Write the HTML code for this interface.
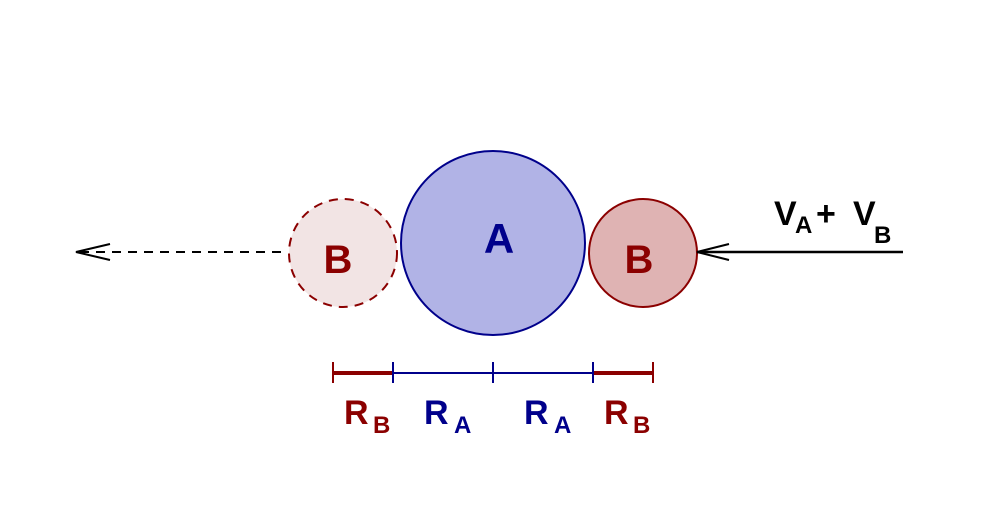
<!DOCTYPE html>
<html><head><style>body{margin:0;background:#fff}</style></head><body>
<svg width="1006" height="526" xmlns="http://www.w3.org/2000/svg" font-family="Liberation Sans, sans-serif" font-weight="bold">
<rect width="1006" height="526" fill="#fff"/>
<circle cx="343" cy="253" r="54" fill="#f2e4e4" stroke="#8b0000" stroke-width="2" stroke-dasharray="9,7"/>
<circle cx="493" cy="243" r="92" fill="#b1b3e6" stroke="#00008b" stroke-width="2"/>
<circle cx="643" cy="253" r="54" fill="#dfb3b3" stroke="#8b0000" stroke-width="2"/>
<text x="338" y="273" font-size="40" fill="#8b0000" text-anchor="middle">B</text>
<text x="639" y="273" font-size="40" fill="#8b0000" text-anchor="middle">B</text>
<text x="499" y="253" font-size="42" fill="#00008b" text-anchor="middle">A</text>
<line x1="80" y1="252" x2="285" y2="252" stroke="#000" stroke-width="2" stroke-dasharray="9,7"/>
<polyline points="110,244 76,252 110,260" fill="none" stroke="#000" stroke-width="2"/>
<line x1="697" y1="252" x2="903" y2="252" stroke="#000" stroke-width="2.5"/>
<polyline points="729,244 697,252 729,260" fill="none" stroke="#000" stroke-width="2"/>
<text x="774" y="225" font-size="34" fill="#000">V</text>
<text x="795" y="233" font-size="24" fill="#000">A</text>
<text x="816" y="225" font-size="34" fill="#000">+</text>
<text x="853" y="225" font-size="34" fill="#000">V</text>
<text x="874" y="243" font-size="24" fill="#000">B</text>
<line x1="333" y1="373" x2="393" y2="373" stroke="#8b0000" stroke-width="4"/>
<line x1="593" y1="373" x2="653" y2="373" stroke="#8b0000" stroke-width="4"/>
<line x1="393" y1="373" x2="593" y2="373" stroke="#00008b" stroke-width="2"/>
<g stroke-width="2">
<line x1="333" y1="362" x2="333" y2="383" stroke="#8b0000"/>
<line x1="653" y1="362" x2="653" y2="383" stroke="#8b0000"/>
<line x1="393" y1="362" x2="393" y2="383" stroke="#00008b"/>
<line x1="493" y1="362" x2="493" y2="383" stroke="#00008b"/>
<line x1="593" y1="362" x2="593" y2="383" stroke="#00008b"/>
</g>
<text x="344" y="424" font-size="34" fill="#8b0000">R</text>
<text x="373" y="433" font-size="24" fill="#8b0000">B</text>
<text x="424" y="424" font-size="34" fill="#00008b">R</text>
<text x="454" y="433" font-size="24" fill="#00008b">A</text>
<text x="524" y="424" font-size="34" fill="#00008b">R</text>
<text x="554" y="433" font-size="24" fill="#00008b">A</text>
<text x="604" y="424" font-size="34" fill="#8b0000">R</text>
<text x="633" y="433" font-size="24" fill="#8b0000">B</text>
</svg>
</body></html>
